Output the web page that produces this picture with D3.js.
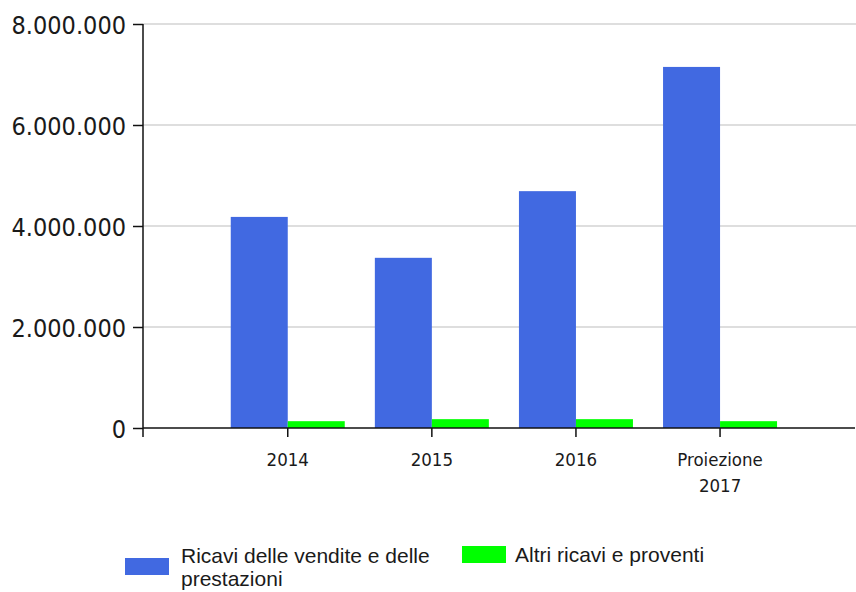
<!DOCTYPE html>
<html>
<head>
<meta charset="utf-8">
<script src="https://cdn.jsdelivr.net/npm/d3@7/dist/d3.min.js"></script>
<style>
  html, body { margin: 0; padding: 0; background: #fff; }
  svg { display: block; }
  .ylab { font-family: "DejaVu Sans Condensed", "DejaVu Sans", sans-serif; font-stretch: condensed; font-size: 25px; fill: #1a1a1a; }
  .xlab { font-family: "DejaVu Sans Condensed", "DejaVu Sans", sans-serif; font-stretch: condensed; font-size: 18.5px; fill: #1a1a1a; }
  .leg  { font-family: "Liberation Sans", Arial, sans-serif; font-size: 21px; fill: #1a1a1a; }
</style>
</head>
<body>
<svg id="chart" width="856" height="592"></svg>
<script>
// Revenue by year (EUR)
const categories = ["2014", "2015", "2016", "Proiezione\n2017"];
const seriesNames = ["Ricavi delle vendite e delle\nprestazioni", "Altri ricavi e proventi"];
const ricaviVendite = [4180000, 3370000, 4690000, 7150000];
const altriRicavi = [135000, 175000, 175000, 135000];
const yTicks = [0, 2000000, 4000000, 6000000, 8000000];
const colors = ["#4169E1", "#00FF00"];

const svg = d3.select("#chart");

const plot = { left: 143, right: 855, top: 24, bottom: 428 };

const x = d3.scaleBand().domain(categories).range([215.7, 792.1]);
const inner = d3.scaleBand().domain(seriesNames).range([0, x.bandwidth()]).paddingOuter(0.264);
const y = d3.scaleLinear().domain([0, 8000000]).range([plot.bottom, plot.top]);

const itFmt = d3.formatLocale({ decimal: ",", thousands: ".", grouping: [3], currency: ["", "€"] }).format(",");

// horizontal gridlines
svg.append("g").selectAll("line")
  .data(yTicks.filter(d => d > 0))
  .join("line")
  .attr("x1", plot.left).attr("x2", 856)
  .attr("y1", d => y(d)).attr("y2", d => y(d))
  .attr("stroke", "#dedede").attr("stroke-width", 2);

// bars
const rows = categories.map((c, i) => ({ cat: c, values: [ricaviVendite[i], altriRicavi[i]] }));
const groups = svg.append("g").selectAll("g")
  .data(rows)
  .join("g")
  .attr("transform", d => `translate(${x(d.cat)},0)`);
groups.selectAll("rect")
  .data(d => d.values.map((v, k) => ({ name: seriesNames[k], value: v, k })))
  .join("rect")
  .attr("x", d => inner(d.name))
  .attr("width", inner.bandwidth())
  .attr("y", d => y(d.value))
  .attr("height", d => y(0) - y(d.value))
  .attr("fill", d => colors[d.k]);

// y axis
const yAxis = svg.append("g")
  .attr("transform", `translate(${plot.left},0)`)
  .call(d3.axisLeft(y).tickValues(yTicks).tickFormat(itFmt).tickSize(10).tickPadding(7));
yAxis.select(".domain").remove();
yAxis.selectAll(".tick line").attr("stroke", "#111").attr("stroke-width", 1.5);
yAxis.selectAll(".tick text").attr("class", "ylab").attr("dy", "0.36em").attr("font-size", null).attr("font-family", null);
yAxis.attr("font-size", null).attr("font-family", null);

// x axis
const xAxis = svg.append("g")
  .attr("transform", `translate(0,${plot.bottom})`)
  .call(d3.axisBottom(x).tickSize(9).tickFormat(""));
xAxis.select(".domain").remove();
xAxis.attr("font-size", null).attr("font-family", null);
xAxis.selectAll(".tick line").attr("stroke", "#111").attr("stroke-width", 1.5);
xAxis.selectAll(".tick").each(function (d) {
  const t = d3.select(this).append("text").attr("class", "xlab").attr("text-anchor", "middle").attr("y", 38);
  d.split("\n").forEach((line, i) => {
    t.append("tspan").attr("x", 0).attr("dy", i === 0 ? 0 : 26).text(line);
  });
});

// axis lines
svg.append("line").attr("x1", plot.left).attr("x2", plot.left).attr("y1", plot.top).attr("y2", plot.bottom + 9)
  .attr("stroke", "#111").attr("stroke-width", 1.5);
svg.append("line").attr("x1", plot.left).attr("x2", plot.right).attr("y1", plot.bottom).attr("y2", plot.bottom)
  .attr("stroke", "#111").attr("stroke-width", 1.5);

// legend
const legendItems = [
  { name: seriesNames[0], color: colors[0], sx: 125, sy: 558, tx: 181, ty: 563 },
  { name: seriesNames[1], color: colors[1], sx: 462, sy: 546, tx: 515, ty: 562 }
];
const legend = svg.append("g");
legendItems.forEach(item => {
  legend.append("rect").attr("x", item.sx).attr("y", item.sy).attr("width", 44).attr("height", 17).attr("fill", item.color);
  const t = legend.append("text").attr("class", "leg").attr("x", item.tx).attr("y", item.ty);
  item.name.split("\n").forEach((line, i) => {
    t.append("tspan").attr("x", item.tx).attr("dy", i === 0 ? 0 : 23).text(line);
  });
});
</script>
</body>
</html>
